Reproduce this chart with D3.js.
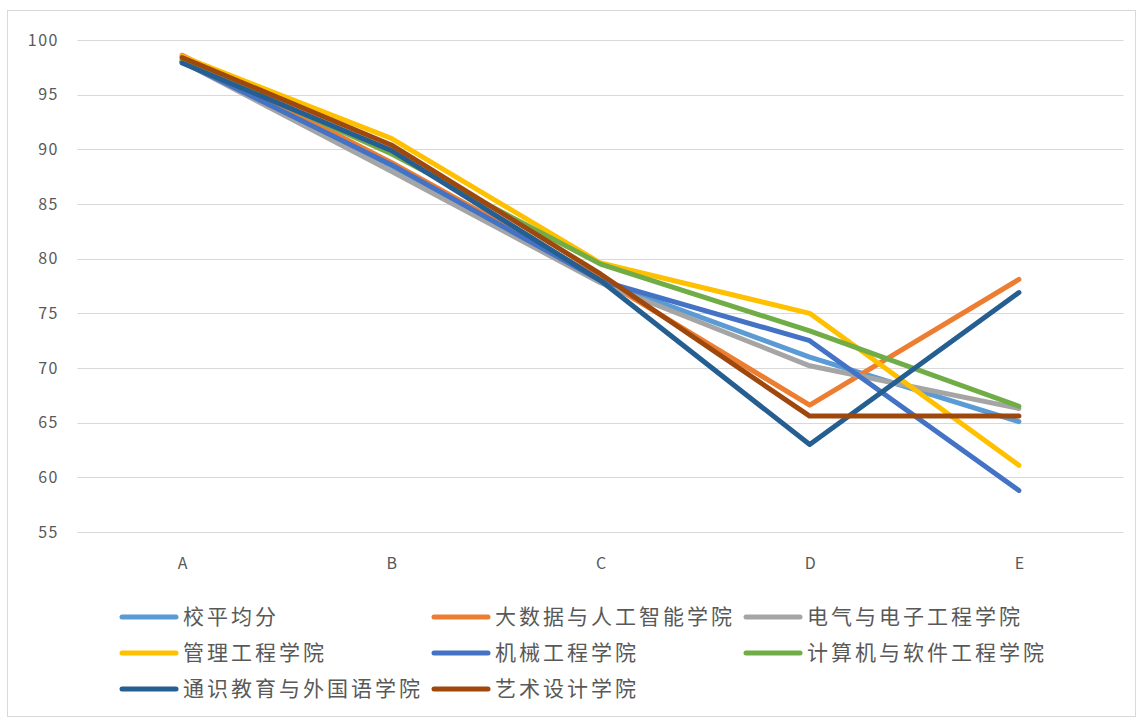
<!DOCTYPE html>
<html>
<head>
<meta charset="utf-8">
<script src="https://cdn.jsdelivr.net/npm/d3@7/dist/d3.min.js"></script>
<style>
  html, body { margin: 0; padding: 0; background: #fff; }
  svg { display: block; font-family: "Noto Sans CJK SC", "Noto Sans", sans-serif; }
</style>
</head>
<body>
<svg id="chart" width="1143" height="724"></svg>
<script>
// Categories along the x axis
const categories = ["A", "B", "C", "D", "E"];

// Y axis tick labels
const yTicks = [55, 60, 65, 70, 75, 80, 85, 90, 95, 100];

// Series names, in drawing order
const seriesNames = [
  "校平均分",
  "大数据与人工智能学院",
  "电气与电子工程学院",
  "管理工程学院",
  "机械工程学院",
  "计算机与软件工程学院",
  "通识教育与外国语学院",
  "艺术设计学院"
];

// Scores per series at A..E
const avgScores      = [98.0, 88.5, 78.0, 71.0, 65.1];
const bigDataScores  = [98.6, 88.8, 78.2, 66.6, 78.1];
const electricScores = [98.0, 88.0, 77.8, 70.2, 66.3];
const mgmtScores     = [98.5, 91.0, 79.6, 75.0, 61.1];
const mechScores     = [98.0, 88.6, 78.0, 72.5, 58.8];
const csScores       = [98.2, 89.6, 79.5, 73.4, 66.5];
const generalScores  = [97.9, 89.9, 78.0, 63.0, 76.9];
const artScores      = [98.4, 90.4, 78.6, 65.6, 65.6];

const seriesValues = [avgScores, bigDataScores, electricScores, mgmtScores,
                      mechScores, csScores, generalScores, artScores];

const seriesColors = ["#5B9BD5", "#ED7D31", "#A5A5A5", "#FFC000",
                      "#4472C4", "#70AD47", "#255E91", "#9E480E"];

const svg = d3.select("#chart");

// Outer chart border
svg.append("rect")
  .attr("x", 7.5).attr("y", 10.5)
  .attr("width", 1128).attr("height", 706)
  .attr("fill", "#fff")
  .attr("stroke", "#D9D9D9")
  .attr("stroke-width", 1);

const plotLeft = 77.5, plotRight = 1123.5;

const x = d3.scalePoint()
  .domain(categories)
  .range([plotLeft, plotRight])
  .padding(0.5);

const y = d3.scaleLinear()
  .domain([55, 100])
  .range([532, 40]);

// Horizontal gridlines
svg.append("g")
  .selectAll("line")
  .data(yTicks)
  .join("line")
  .attr("x1", plotLeft).attr("x2", plotRight)
  .attr("y1", d => Math.round(y(d)) + 0.5)
  .attr("y2", d => Math.round(y(d)) + 0.5)
  .attr("stroke", "#D9D9D9")
  .attr("stroke-width", 1);

// Y axis labels
const yAxis = d3.axisLeft(y).tickValues(yTicks).tickSize(0).tickPadding(0);
const yg = svg.append("g")
  .attr("transform", `translate(${59},0)`)
  .call(yAxis);
yg.select(".domain").remove();
yg.selectAll("text")
  .attr("fill", "#595959")
  .style("font-size", "16px")
  .style("letter-spacing", "1.5px")
  .style("font-family", "\"Noto Sans CJK SC\", sans-serif");

// X axis labels
const xAxis = d3.axisBottom(x).tickSize(0).tickPadding(0);
const xg = svg.append("g")
  .attr("transform", `translate(0,${558})`)
  .call(xAxis);
xg.select(".domain").remove();
xg.selectAll("text")
  .attr("fill", "#595959")
  .style("font-size", "16px")
  .style("font-family", "\"Noto Sans CJK SC\", sans-serif");

// Series lines
const line = d3.line()
  .x((d, i) => x(categories[i]))
  .y(d => y(d));

svg.append("g")
  .selectAll("path")
  .data(seriesValues)
  .join("path")
  .attr("d", d => line(d))
  .attr("fill", "none")
  .attr("stroke", (d, i) => seriesColors[i])
  .attr("stroke-width", 5)
  .attr("stroke-linejoin", "round")
  .attr("stroke-linecap", "round");

// Legend: three columns, three rows
const colX = [120, 432, 744];
const rowY = [617, 653, 689];
const legend = svg.append("g")
  .selectAll("g")
  .data(seriesNames)
  .join("g")
  .attr("transform", (d, i) => `translate(${colX[i % 3]},${rowY[Math.floor(i / 3)]})`);

legend.append("line")
  .attr("x1", 2).attr("x2", 56)
  .attr("y1", 0).attr("y2", 0)
  .attr("stroke", (d, i) => seriesColors[i])
  .attr("stroke-width", 5)
  .attr("stroke-linecap", "round");

legend.append("text")
  .attr("x", 63)
  .attr("y", 0)
  .attr("dy", "0.35em")
  .attr("fill", "#595959")
  .style("font-size", "21px")
  .style("letter-spacing", "3px")
  .text(d => d);
</script>
</body>
</html>
